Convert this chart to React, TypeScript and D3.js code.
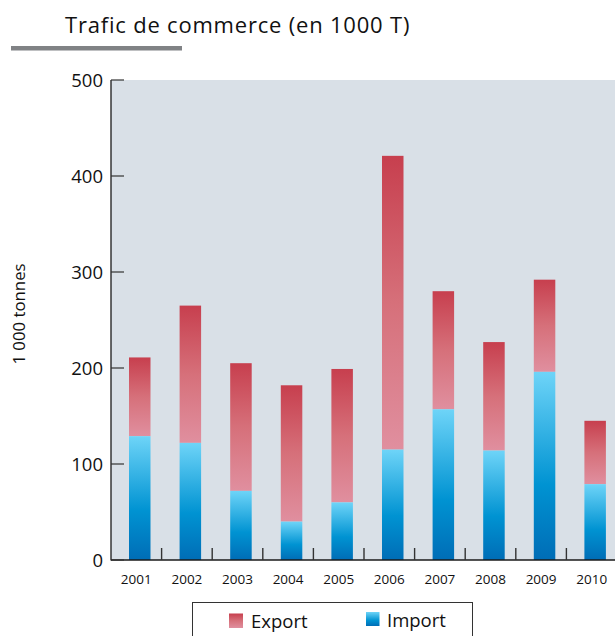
import React from "react";
import * as d3 from "d3";

const years = ["2001", "2002", "2003", "2004", "2005", "2006", "2007", "2008", "2009", "2010"];
const importVals = [129, 122, 72, 40, 60, 115, 157, 114, 196, 79];
const totalVals = [211, 265, 205, 182, 199, 421, 280, 227, 292, 145];
const yTicks = [0, 100, 200, 300, 400, 500];

const W = 615;
const H = 636;
const FONT = "'Open Sans', 'Noto Sans', sans-serif";

export default function App() {
  const left = 111;
  const right = 617;
  const top = 80;
  const bottom = 560;
  const x = d3.scaleBand<string>().domain(years).range([left, right]).padding(0);
  const y = d3.scaleLinear().domain([0, 500]).range([bottom, top]);
  const step = x.step();
  const barOff = 18;
  const barW = 21.5;

  return (
    <svg width={W} height={H} style={{ position: "absolute", left: 0, top: 0 }}>
      <defs>
        <linearGradient id="gExp" x1="0" y1="0" x2="0" y2="1">
          <stop offset="0" stopColor="#C73F4E" />
          <stop offset="0.5" stopColor="#D6707A" />
          <stop offset="1" stopColor="#E08F9F" />
        </linearGradient>
        <linearGradient id="gImp" x1="0" y1="0" x2="0" y2="1">
          <stop offset="0" stopColor="#6ED4F8" />
          <stop offset="0.6" stopColor="#0093D2" />
          <stop offset="1" stopColor="#006DB6" />
        </linearGradient>
      </defs>
      <rect x={0} y={0} width={W} height={H} fill="#fff" />
      <text x={65} y={33} fontFamily={FONT} fontSize={22} letterSpacing={0.8} fill="#111">
        Trafic de commerce (en 1000 T)
      </text>
      <rect x={11} y={46} width={171} height={4.5} fill="#808285" />

      <rect x={left} y={top} width={W - left} height={bottom - top} fill="#D9E0E7" />

      {years.map((yr, i) => {
        const bx = (x(yr) as number) + barOff;
        return (
          <g key={yr}>
            <rect
              x={bx}
              y={y(totalVals[i])}
              width={barW}
              height={y(importVals[i]) - y(totalVals[i])}
              fill="url(#gExp)"
            />
            <rect
              x={bx}
              y={y(importVals[i])}
              width={barW}
              height={bottom - y(importVals[i])}
              fill="url(#gImp)"
            />
          </g>
        );
      })}

      {/* axes */}
      <line x1={left} y1={top} x2={left} y2={bottom + 0.5} stroke="#1a1a1a" strokeWidth={1.3} />
      <line x1={left} y1={bottom} x2={W} y2={bottom} stroke="#1a1a1a" strokeWidth={1.5} />
      {yTicks.map((t) => (
        <g key={t}>
          <line x1={left} x2={left + 13} y1={y(t)} y2={y(t)} stroke="#333" strokeWidth={1.2} />
          <text
            x={103}
            y={y(t) + 7}
            textAnchor="end"
            fontFamily={FONT}
            fontSize={18.5}
            fill="#111"
          >
            {t}
          </text>
        </g>
      ))}
      {years.slice(1).map((yr) => (
        <line
          key={"t" + yr}
          x1={x(yr) as number}
          x2={x(yr) as number}
          y1={bottom}
          y2={bottom - 12}
          stroke="#333"
          strokeWidth={1.4}
        />
      ))}
      {years.map((yr) => (
        <text
          key={"l" + yr}
          x={(x(yr) as number) + step / 2}
          y={584}
          textAnchor="middle"
          fontFamily={FONT}
          fontSize={13.5}
          fill="#111"
        >
          {yr}
        </text>
      ))}
      <text
        transform={`translate(25,314) rotate(-90)`}
        textAnchor="middle"
        fontFamily={FONT}
        fontSize={16.8}
        fill="#111"
      >
        1 000 tonnes
      </text>

      {/* legend */}
      <rect x={192.5} y={602.5} width={280} height={40} fill="#fff" stroke="#333" strokeWidth={1} />
      <rect x={229} y={613.5} width={14} height={14.5} fill="url(#gExp)" />
      <text x={251} y={628} fontFamily={FONT} fontSize={18.5} fill="#111">
        Export
      </text>
      <rect x={366} y={612} width={13.5} height={14} fill="url(#gImp)" />
      <text x={387} y={626.5} fontFamily={FONT} fontSize={18.5} fill="#111">
        Import
      </text>
    </svg>
  );
}
